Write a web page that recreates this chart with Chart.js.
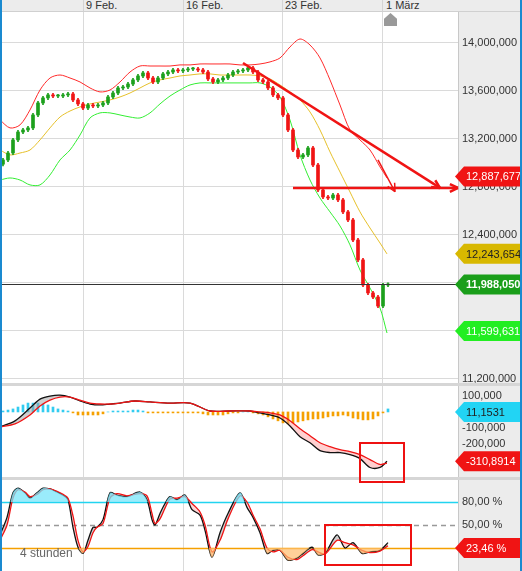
<!DOCTYPE html>
<html lang="de">
<head>
<meta charset="utf-8">
<title>Chart</title>
<script src="https://cdn.jsdelivr.net/npm/chart.js"></script>
<style>
    body { margin: 0; background: #fff; font-family: "Liberation Sans", Arial, sans-serif; }
    .page { position: relative; width: 522px; height: 571px; overflow: hidden; background: #fff; }
    .page canvas { position: absolute; left: 0; }
    .head { position: absolute; left: 0; top: 0; width: 522px; height: 11px; background: #ececec; border-bottom: 1px solid #d0d0d0; }
    .head span { position: absolute; top: -1px; font-size: 11px; color: #333; }
    .head i { position: absolute; top: 0; width: 1px; height: 11px; background: #d4d4d4; }
    .sep { position: absolute; left: 0; width: 522px; height: 3px; background: #d6d6d6; }
    .box { position: absolute; border: 2px solid #ee1111; }
    .side { position: absolute; top: 0; width: 2px; height: 571px; background: #1a8ad0; }
    .tri { position: absolute; left: 384px; top: 13px; width: 13px; height: 13px; background: #999; clip-path: polygon(50% 0, 100% 45%, 100% 100%, 0 100%, 0 45%); }
    .tag4 { position: absolute; left: 20px; top: 546px; font-size: 12px; color: #666; }
</style>
</head>
<body>
<div class="page">
    <canvas id="main" width="522" height="372" style="top:12px"></canvas>
    <canvas id="macd" width="522" height="91" style="top:386px"></canvas>
    <canvas id="stoch" width="522" height="91" style="top:480px"></canvas>
    <div class="head">
        <i style="left:83px"></i><i style="left:183px"></i><i style="left:282px"></i><i style="left:382px"></i>
        <span style="left:86px">9 Feb.</span>
        <span style="left:186px">16 Feb.</span>
        <span style="left:285px">23 Feb.</span>
        <span style="left:386px">1 März</span>
    </div>
    <div class="tri"></div>
    <div class="sep" style="top:383px"></div>
    <div class="sep" style="top:477px"></div>
    <div class="tag4">4 stunden</div>
    <div class="box" style="left:359px;top:442px;width:42px;height:37px"></div>
    <div class="box" style="left:324px;top:524px;width:84px;height:38px"></div>
    <div class="side" style="left:0"></div>
    <div class="side" style="left:520px"></div>
</div>
<script>
// alle Werte in Tausend
const weekLabels = ['9 Feb.', '16 Feb.', '23 Feb.', '1 März'];
const weekPos = [16, 36, 55.8, 75.8];

const closes = [13025,13083,13192,13258,13275,13292,13400,13500,13542,13567,13558,13558,13567,13575,13525,13492,
    13458,13483,13475,13483,13500,13550,13583,13625,13633,13658,13692,13725,13750,13708,13675,13708,13742,13758,
    13775,13767,13775,13783,13783,13775,13758,13700,13675,13692,13708,13733,13758,13767,13775,13792,13758,13692,
    13675,13625,13567,13542,13400,13275,13108,13050,13067,13125,12983,12775,12717,12708,12733,12692,12592,12525,
    12358,12192,11983,11917,11883,11808,11983,11988];
const firstOpen = 12990;
const wick = 14;

const bandPos = [-0.6,1.4,3.4,5.4,7.4,9.4,11.4,13.4,15.4,17.4,19.4,21.4,23.4,25.4,27.4,29.4,31.4,33.4,35.4,37.4,
    39.4,41.4,43.4,45.4,47.4,49.4,51.4,53.4,55.4,57.4,59.4,61.4,63.4,65.4,67.4,69.4,71.4,73.4,75.4,76.8];
const bandUpper = [13358,13292,13317,13442,13608,13708,13733,13708,13675,13625,13592,13608,13675,13758,13808,13808,
    13808,13808,13817,13817,13825,13825,13825,13825,13817,13817,13825,13842,13875,13967,14033,13983,13875,13692,
    13483,13275,13192,13108,12967,12875];
const bandMiddle = [13108,13067,13083,13108,13192,13292,13383,13433,13467,13492,13508,13525,13550,13583,13625,13667,
    13692,13708,13725,13733,13742,13742,13733,13733,13733,13733,13725,13700,13650,13592,13525,13425,13275,13092,
    12925,12758,12592,12458,12333,12242];
const bandLower = [12858,12875,12858,12817,12817,12900,13025,13108,13233,13375,13417,13417,13400,13383,13375,13417,
    13492,13558,13608,13650,13667,13667,13667,13667,13667,13667,13667,13633,13550,13358,13067,12858,12708,12592,
    12475,12317,12108,11958,11792,11583];
const mainTicks = [11200,11600,12000,12400,12800,13200,13600,14000];
const lastPrice = 11988.05;

// Trendlinien (Zeichnungen)
const trendDown = [[48, 13833], [87.4, 12792]];
const trendFlat = [[58, 12792], [91, 12792]];
const trendShort = [[75, 13025], [78.4, 12760]];

const macdPos = [-0.6,2.4,5.4,7.4,9.4,11.4,13.4,15.4,17.4,19.4,21.4,23.4,26.4,29.4,33.4,37.4,41.4,45.4,49.4,51.4,53.4,
    55.4,57.4,59.4,61.4,63.4,65.4,67.4,69.4,71.4,73.4,75.4,76.8];
const macdLine = [-94,-56,25,81,100,106,94,69,50,44,50,56,69,63,56,56,6,6,6,-6,-19,-38,-88,-156,-194,-244,-256,-256,
    -269,-294,-350,-350,-311];
const macdSignal = [-94,-75,-19,38,75,94,94,75,56,50,50,56,69,63,56,56,6,6,6,0,-6,-19,-56,-106,-150,-194,-219,-238,
    -250,-269,-300,-331,-322];
const macdHist = [6,12,19,31,44,56,56,56,50,44,31,19,12,6,-6,-19,-19,-19,-19,-19,-12,0,6,6,6,6,12,12,6,-6,-6,-6,-6,
    -6,-6,-6,-6,-6,-6,-6,-12,-19,-19,-19,-19,-12,-6,-6,0,0,-6,-12,-19,-31,-44,-56,-69,-75,-69,-63,-56,-50,-44,-44,
    -38,-31,-25,-25,-19,-25,-38,-44,-50,-50,-44,-25,-6,19];
const macdTicks = [100, -100, -200];

const stochPx = [0,7,13,18,25,30,37,43,50,57,63,68,73,78,83,88,93,97,103,110,117,127,140,147,152,155,160,165,170,177,
    185,192,200,205,212,220,228,240,247,253,260,267,273,280,288,297,303,312,318,325,337,345,353,362,370,380,388];
const stochK = [37,60,92,98,92,85,92,98,97,93,89,83,47,21,13,30,47,47,57,92,89,87,93,83,57,50,65,78,87,83,89,70,63,
    43,8,40,65,92,73,60,40,13,17,17,4,7,13,21,11,13,37,20,27,13,15,17,27];
const stochD = [30,50,85,96,93,87,90,96,97,94,90,85,62,30,15,22,40,47,52,85,91,88,91,88,65,52,58,72,84,85,87,78,67,
    50,15,30,58,88,80,63,45,20,15,17,8,5,10,18,15,12,30,27,24,17,14,16,23];

const FONT = "Liberation Sans";
const GRID = '#dadada';
const X_MIN = -0.6, X_MAX = 91;

function fmt(v) {
    return Math.round(v * 1000).toLocaleString('en-US');
}

function xScale() {
    return { type: 'linear', min: X_MIN, max: X_MAX, offset: false, display: false };
}

function yScale(min, max, ticks, cb, grid) {
    return {
        position: 'right', min: min, max: max,
        afterBuildTicks: s => { s.ticks = ticks.map(v => ({ value: v })); },
        afterFit: s => { s.width = 64; s.paddingTop = 0; s.paddingBottom = 0; },
        grid: { display: grid, color: GRID, drawTicks: false },
        border: { color: '#c8c8c8' },
        ticks: { color: '#333', font: { family: FONT, size: 11 }, padding: 4, callback: cb }
    };
}

// graue Fläche rechts + Wochenlinien
const sidePanel = {
    id: 'sidePanel',
    beforeDraw(chart) {
        const c = chart.ctx, a = chart.chartArea;
        c.save();
        c.fillStyle = '#ececec';
        c.fillRect(a.right, 0, chart.width - a.right, chart.height);
        c.strokeStyle = GRID;
        c.lineWidth = 1;
        weekPos.forEach(w => {
            const x = Math.round(chart.scales.x.getPixelForValue(w)) + 0.5;
            c.beginPath(); c.moveTo(x, 0); c.lineTo(x, chart.height); c.stroke();
        });
        c.restore();
    }
};

function drawTag(chart, y, text, bg, fg, bold) {
    const c = chart.ctx, x0 = chart.chartArea.right - 3;
    c.save();
    c.fillStyle = bg;
    c.beginPath();
    c.moveTo(x0, y);
    c.lineTo(x0 + 9, y - 10);
    c.lineTo(chart.width - 2, y - 10);
    c.lineTo(chart.width - 2, y + 10);
    c.lineTo(x0 + 9, y + 10);
    c.closePath();
    c.fill();
    c.fillStyle = fg;
    c.font = (bold ? 'bold ' : '') + '11px ' + FONT;
    c.textBaseline = 'middle';
    c.fillText(text, x0 + 11, y + 1);
    c.restore();
}

function arrowHead(c, x1, y1, x2, y2) {
    const ang = Math.atan2(y2 - y1, x2 - x1), len = 9;
    c.beginPath();
    c.moveTo(x2, y2);
    c.lineTo(x2 - len * Math.cos(ang - 0.45), y2 - len * Math.sin(ang - 0.45));
    c.moveTo(x2, y2);
    c.lineTo(x2 - len * Math.cos(ang + 0.45), y2 - len * Math.sin(ang + 0.45));
    c.stroke();
}

// Kerzen
const opens = closes.map((v, i) => i === 0 ? firstOpen : closes[i - 1]);
const bodies = closes.map((v, i) => ({ x: i, y: [opens[i], v] }));
const wicks = closes.map((v, i) => ({ x: i, y: [Math.min(opens[i], v) - wick, Math.max(opens[i], v) + wick] }));
const candleColors = closes.map((v, i) => v >= opens[i] ? '#1ca01c' : '#f01414');
const pts = (xs, ys) => xs.map((x, i) => ({ x: x, y: ys[i] }));
const line = (data, color, w, extra) => Object.assign({
    type: 'line', data: data, borderColor: color, borderWidth: w, pointRadius: 0, tension: 0.3, fill: false
}, extra || {});
const baseOpts = (y) => ({
    responsive: false, animation: false,
    layout: { padding: 0 },
    plugins: { legend: { display: false }, tooltip: { enabled: false } },
    scales: { x: xScale(), y: y }
});

new Chart(document.getElementById('main'), {
    type: 'bar',
    data: {
        datasets: [
            line(pts(bandPos, bandUpper), '#ff2a2a', 1, { order: 5 }),
            line(pts(bandPos, bandMiddle), '#e6c02a', 1, { order: 5 }),
            line(pts(bandPos, bandLower), '#33ee33', 1, { order: 5 }),
            { data: wicks, backgroundColor: candleColors, barThickness: 1, grouped: false, order: 2 },
            { data: bodies, backgroundColor: candleColors, barThickness: 3, grouped: false, order: 1, minBarLength: 1 },
            line(pts(trendDown.map(p => p[0]), trendDown.map(p => p[1])), '#f01414', 2.5, { tension: 0, order: 0 }),
            line(pts(trendFlat.map(p => p[0]), trendFlat.map(p => p[1])), '#f01414', 2.5, { tension: 0, order: 0 }),
            line(pts(trendShort.map(p => p[0]), trendShort.map(p => p[1])), '#f01414', 1.5, { tension: 0, order: 0 })
        ]
    },
    options: baseOpts(yScale(11158, 14258, mainTicks, v => fmt(v), true)),
    plugins: [sidePanel, {
        id: 'mainExtras',
        afterDatasetsDraw(chart) {
            const c = chart.ctx, xs = chart.scales.x, ys = chart.scales.y, a = chart.chartArea;
            c.save();
            c.strokeStyle = '#333';
            c.lineWidth = 1;
            const yp = Math.round(ys.getPixelForValue(lastPrice)) + 0.5;
            c.beginPath(); c.moveTo(0, yp); c.lineTo(a.right, yp); c.stroke();
            c.strokeStyle = '#f01414';
            c.lineWidth = 2.5;
            [trendDown, trendFlat].forEach(t => arrowHead(c,
                xs.getPixelForValue(t[0][0]), ys.getPixelForValue(t[0][1]),
                xs.getPixelForValue(t[1][0]), ys.getPixelForValue(t[1][1])));
            c.lineWidth = 1.5;
            arrowHead(c, xs.getPixelForValue(trendShort[0][0]), ys.getPixelForValue(trendShort[0][1]),
                xs.getPixelForValue(trendShort[1][0]), ys.getPixelForValue(trendShort[1][1]));
            c.restore();
            drawTag(chart, ys.getPixelForValue(12887.677), '12,887,677', '#f01414', '#fff');
            drawTag(chart, ys.getPixelForValue(12243.654), '12,243,654', '#d8b800', '#222');
            drawTag(chart, ys.getPixelForValue(lastPrice), '11,988,050', '#1a9e1a', '#fff', true);
            drawTag(chart, ys.getPixelForValue(11599.631), '11,599,631', '#22ee22', '#fff');
        }
    }]
});

new Chart(document.getElementById('macd'), {
    type: 'bar',
    data: {
        datasets: [
            { data: macdHist.map((v, i) => ({ x: i, y: v })), backgroundColor: macdHist.map(v => v >= 0 ? '#33ccf0' : '#f5a000'),
              barThickness: 2, order: 3 },
            line(pts(macdPos, macdSignal), '#f01414', 1.3, { order: 1 }),
            line(pts(macdPos, macdLine), '#111', 1.3, { order: 2, fill: { target: 1, above: 'rgba(160,160,160,0.5)', below: 'rgba(255,150,150,0.45)' } })
        ]
    },
    options: baseOpts(yScale(-410, 163.6, macdTicks, v => fmt(v), false)),
    plugins: [sidePanel, {
        id: 'macdTags',
        afterDatasetsDraw(chart) {
            const ys = chart.scales.y;
            drawTag(chart, ys.getPixelForValue(0), '11,1531', '#22d4f4', '#222');
            drawTag(chart, ys.getPixelForValue(-310.89), '-310,8914', '#f01414', '#fff');
        }
    }]
});

const stochX = stochPx.map(p => (p - 3) / 5);
new Chart(document.getElementById('stoch'), {
    type: 'line',
    data: {
        datasets: [
            line(pts(stochX, stochK), 'transparent', 0, { fill: { target: { value: 80 }, above: 'rgba(120,230,250,0.75)', below: 'transparent' } }),
            line(pts(stochX, stochK), 'transparent', 0, { fill: { target: { value: 20 }, above: 'transparent', below: 'rgba(255,190,110,0.7)' } }),
            line(pts(stochX, stochD), '#f01414', 1.3),
            line(pts(stochX, stochK), '#111', 1.3, { fill: { target: 2, above: 'rgba(150,150,150,0.45)', below: 'rgba(255,150,150,0.4)' } })
        ]
    },
    options: baseOpts(yScale(-10, 108.7, [80, 50], v => v + ',00 %', false)),
    plugins: [sidePanel, {
        id: 'levels',
        beforeDatasetsDraw(chart) {
            const c = chart.ctx, ys = chart.scales.y, a = chart.chartArea;
            const lv = (v, col, dash) => {
                const y = Math.round(ys.getPixelForValue(v)) + 0.5;
                c.save();
                c.strokeStyle = col; c.lineWidth = 1.3; c.setLineDash(dash);
                c.beginPath(); c.moveTo(0, y); c.lineTo(a.right, y); c.stroke();
                c.restore();
            };
            lv(80, '#22d4f0', []);
            lv(50, '#999', [5, 4]);
            lv(20, '#f5a000', []);
        },
        afterDatasetsDraw(chart) {
            drawTag(chart, chart.scales.y.getPixelForValue(20), '23,46 %', '#f01414', '#fff');
        }
    }]
});
</script>
</body>
</html>
